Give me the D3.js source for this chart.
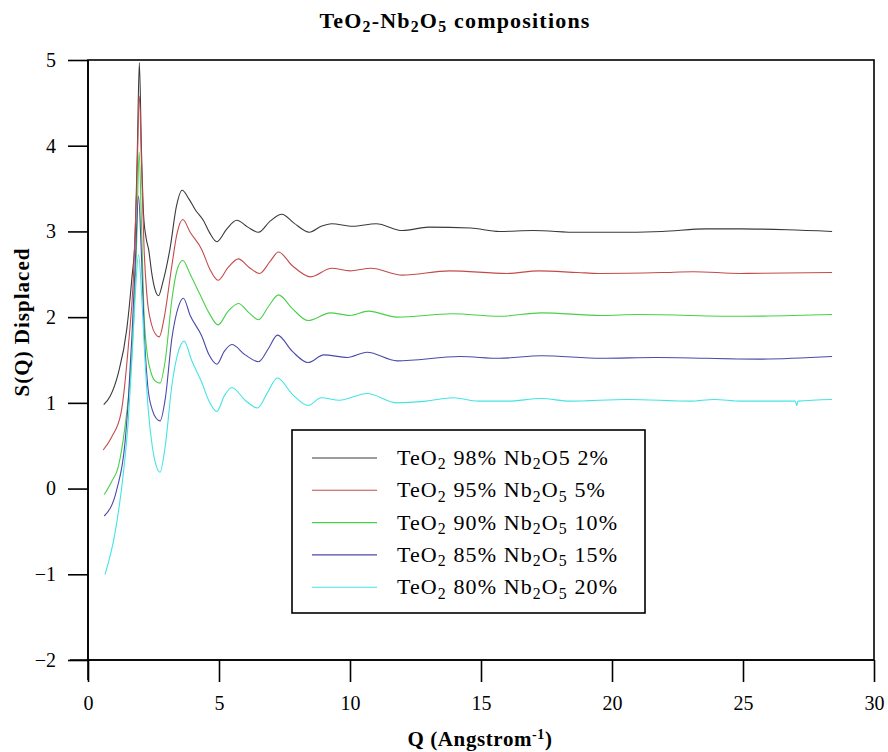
<!DOCTYPE html>
<html>
<head>
<meta charset="utf-8">
<script src="https://cdn.jsdelivr.net/npm/d3@7"></script>
</head>
<body style="margin:0">
<svg id="chart" width="888" height="752"></svg>
<style>
  #chart text, #chart tspan { font-family: 'Liberation Serif', 'Times New Roman', serif !important; }
</style>
<script>
// Series labels ("_d" marks a subscript digit)
const seriesLabels = [
  "TeO_2 98% Nb_2O5 2%",
  "TeO_2 95% Nb_2O_5 5%",
  "TeO_2 90% Nb_2O_5 10%",
  "TeO_2 85% Nb_2O_5 15%",
  "TeO_2 80% Nb_2O_5 20%"
];
const seriesColors = ["#3a3a3a", "#c44a4a", "#48d048", "#4a4aaa", "#44e4e4"];

// S(Q) curves, displaced vertically, as [Q, S] pairs
const nb02 = [[0.6,0.98],[0.85,1.08],[1.16,1.35],[1.48,1.86],[1.67,2.44],[1.8,2.95],[1.88,3.9],[1.96,4.97],[2.04,3.95],[2.12,3.2],[2.22,2.92],[2.32,2.78],[2.43,2.52],[2.56,2.32],[2.69,2.25],[2.85,2.4],[3.13,2.8],[3.38,3.3],[3.59,3.48],[3.85,3.38],[4.1,3.25],[4.4,3.13],[4.65,2.98],[4.92,2.88],[5.3,3.03],[5.68,3.13],[6.1,3.05],[6.51,2.99],[6.95,3.12],[7.4,3.2],[7.85,3.1],[8.45,2.99],[8.9,3.06],[9.3,3.09],[10.1,3.06],[11.0,3.09],[12.0,3.01],[13.0,3.05],[14.6,3.04],[15.7,3.0],[17.0,3.01],[18.7,2.99],[20.0,2.99],[21.9,3.0],[23.6,3.03],[24.9,3.03],[26.7,3.02],[28.4,3.0]];
const nb05 = [[0.58,0.45],[0.9,0.6],[1.26,0.88],[1.54,1.66],[1.73,2.44],[1.86,3.5],[1.96,4.58],[2.05,3.7],[2.14,2.8],[2.25,2.25],[2.42,1.92],[2.58,1.8],[2.72,1.77],[2.9,1.98],[3.2,2.6],[3.4,2.98],[3.62,3.14],[3.9,2.99],[4.34,2.79],[4.65,2.56],[4.96,2.43],[5.35,2.58],[5.74,2.68],[6.15,2.58],[6.55,2.51],[6.95,2.65],[7.27,2.76],[7.8,2.6],[8.5,2.47],[9.3,2.57],[10.0,2.54],[10.8,2.57],[12.0,2.49],[13.8,2.54],[16.0,2.51],[17.2,2.54],[18.7,2.52],[19.5,2.51],[21.9,2.52],[23.1,2.53],[24.9,2.51],[28.4,2.52]];
const nb10 = [[0.62,-0.07],[0.9,0.08],[1.16,0.26],[1.41,0.72],[1.6,1.25],[1.75,2.0],[1.86,2.9],[1.95,3.93],[2.04,3.1],[2.13,2.1],[2.25,1.6],[2.4,1.36],[2.55,1.26],[2.75,1.23],[2.95,1.5],[3.2,2.2],[3.4,2.55],[3.62,2.66],[3.9,2.5],[4.28,2.26],[4.62,2.05],[4.96,1.91],[5.35,2.07],[5.74,2.16],[6.15,2.05],[6.51,1.97],[6.9,2.13],[7.27,2.26],[7.8,2.1],[8.4,1.96],[9.25,2.05],[10.0,2.02],[10.7,2.07],[11.8,2.0],[13.9,2.04],[15.7,2.01],[17.3,2.05],[19.6,2.02],[21.0,2.03],[25.0,2.01],[28.4,2.03]];
const nb15 = [[0.62,-0.32],[1.1,-0.01],[1.41,0.53],[1.54,1.04],[1.68,1.8],[1.8,2.6],[1.93,3.41],[2.03,2.8],[2.15,1.8],[2.28,1.2],[2.45,0.92],[2.6,0.82],[2.75,0.79],[2.95,1.05],[3.2,1.75],[3.45,2.12],[3.64,2.22],[3.9,2.02],[4.34,1.78],[4.62,1.56],[4.92,1.45],[5.2,1.6],[5.49,1.68],[6.0,1.56],[6.51,1.48],[6.9,1.64],[7.23,1.79],[7.8,1.6],[8.4,1.47],[9.0,1.56],[9.9,1.53],[10.65,1.59],[11.8,1.49],[14.2,1.54],[15.7,1.52],[17.3,1.55],[19.6,1.52],[21.7,1.53],[25.6,1.51],[28.4,1.54]];
const nb20 = [[0.65,-1.0],[1.03,-0.52],[1.35,0.18],[1.54,0.8],[1.67,1.47],[1.8,2.24],[1.93,2.73],[2.05,2.24],[2.18,1.47],[2.3,0.92],[2.45,0.5],[2.6,0.27],[2.75,0.19],[2.95,0.5],[3.2,1.2],[3.45,1.6],[3.67,1.72],[3.95,1.5],[4.34,1.24],[4.62,1.02],[4.92,0.9],[5.2,1.08],[5.49,1.18],[6.0,1.03],[6.47,0.94],[6.85,1.12],[7.23,1.29],[7.8,1.1],[8.4,0.97],[8.9,1.06],[9.6,1.03],[10.65,1.11],[11.8,1.0],[12.9,1.02],[13.95,1.06],[14.9,1.02],[16.0,1.02],[17.3,1.05],[18.4,1.02],[20.6,1.04],[23.0,1.02],[23.9,1.04],[24.9,1.02],[27.0,1.02],[27.05,0.97],[27.1,1.02],[28.4,1.04]];
const seriesData = [nb02, nb05, nb10, nb15, nb20];

const xTicks = [0, 5, 10, 15, 20, 25, 30];
const yTicks = [-2, -1, 0, 1, 2, 3, 4, 5];

const FONT = "'Liberation Serif', 'Times New Roman', serif";
const svg = d3.select("#chart");
const plotL = 88, plotR = 874, plotT = 60, plotB = 660;

const x = d3.scaleLinear().domain([0, 30]).range([plotL, plotR]);
const y = d3.scaleLinear().domain([-2, 5]).range([plotB, plotT]);

// append text with "_d" subscripts as tspans; baseline restored on the next run
function richText(sel, str, size) {
  const parts = str.split(/(_\d)/).filter(s => s.length);
  let shift = 0;
  parts.forEach(p => {
    if (p[0] === "_") {
      sel.append("tspan").attr("font-size", size * 0.72).attr("dy", size * 0.2 - shift).text(p.slice(1));
      shift = size * 0.2;
    } else {
      sel.append("tspan").attr("dy", -shift).text(p);
      shift = 0;
    }
  });
}

// title
const title = svg.append("text")
  .attr("x", 455).attr("y", 28)
  .attr("text-anchor", "middle")
  .attr("font-size", 22).attr("font-weight", "bold")
  .attr("letter-spacing", 1.2);
richText(title, "TeO_2-Nb_2O_5 compositions", 22);

// curves
const line = d3.line().x(d => x(d[0])).y(d => y(d[1])).curve(d3.curveMonotoneX);
const plot = svg.append("g");
seriesData.forEach((data, i) => {
  plot.append("path")
    .attr("d", line(data))
    .attr("fill", "none")
    .attr("stroke", seriesColors[i])
    .attr("stroke-width", 1.1);
});

// frame
svg.append("rect")
  .attr("x", plotL).attr("y", plotT)
  .attr("width", plotR - plotL).attr("height", plotB - plotT)
  .attr("fill", "none").attr("stroke", "#000").attr("stroke-width", 1.6);

// axes
const xAxis = d3.axisBottom(x).tickValues(xTicks).tickSize(22).tickPadding(14).tickSizeOuter(0);
const gx = svg.append("g").attr("transform", `translate(0,${plotB})`).call(xAxis)
  .attr("font-family", null).attr("font-size", 20);
gx.select(".domain").attr("d", `M${plotL - 18},0H${plotR}`).attr("stroke-width", 1.6);
gx.selectAll(".tick line").attr("stroke-width", 1.6);

const yAxis = d3.axisLeft(y).tickValues(yTicks).tickSize(20).tickPadding(12).tickSizeOuter(0)
  .tickFormat(d => d < 0 ? "\u2212" + Math.abs(d) : String(d));
const gy = svg.append("g").attr("transform", `translate(${plotL},0)`).call(yAxis)
  .attr("font-family", null).attr("font-size", 20);
gy.select(".domain").attr("d", `M0,${plotT}V${plotB + 20}`).attr("stroke-width", 1.6);
gy.selectAll(".tick line").attr("stroke-width", 1.6);

// axis titles
const xl = svg.append("text")
  .attr("x", 480).attr("y", 746)
  .attr("text-anchor", "middle")
  .attr("font-size", 21).attr("font-weight", "bold")
  .attr("letter-spacing", 0.6);
xl.append("tspan").text("Q (Angstrom");
xl.append("tspan").attr("font-size", 14).attr("dy", -7).text("-1");
xl.append("tspan").attr("dy", 7).text(")");

svg.append("text")
  .attr("transform", "translate(29,322) rotate(-90)")
  .attr("text-anchor", "middle")
  .attr("font-size", 21).attr("font-weight", "bold")
  .attr("letter-spacing", 1)
  .text("S(Q) Displaced");

// legend
const lg = svg.append("g");
lg.append("rect")
  .attr("x", 292).attr("y", 430).attr("width", 353).attr("height", 183)
  .attr("fill", "#fff").attr("stroke", "#000").attr("stroke-width", 1.6);
seriesLabels.forEach((lab, i) => {
  const yy = 458 + i * 32.3;
  lg.append("line")
    .attr("x1", 312).attr("x2", 377).attr("y1", yy).attr("y2", yy)
    .attr("stroke", seriesColors[i]).attr("stroke-width", 1.1);
  const t = lg.append("text")
    .attr("x", 397).attr("y", yy + 7)
    .attr("font-size", 22)
    .attr("letter-spacing", 1.1);
  richText(t, lab, 22);
});

// one serif face for every label
svg.selectAll("text").style("font-family", FONT);
</script>
</body>
</html>
